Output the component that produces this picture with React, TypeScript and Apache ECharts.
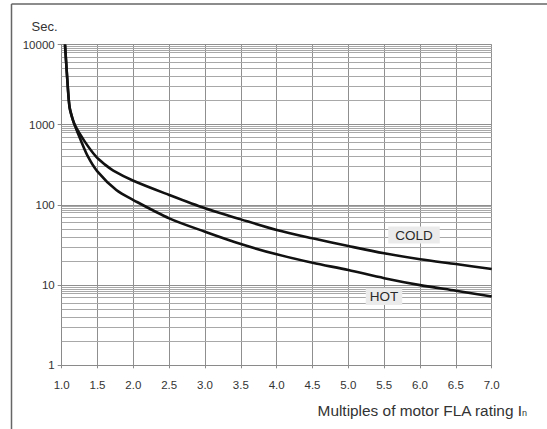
import React, { useEffect, useRef } from "react";
import * as echarts from "echarts";

// Tick labels
const xTicks = ["1.0", "1.5", "2.0", "2.5", "3.0", "3.5", "4.0", "4.5", "5.0", "5.5", "6.0", "6.5", "7.0"];
const yTicks = [1, 10, 100, 1000, 10000];

// Minor grid lines of the log paper (per decade)
const decades = [1, 10, 100, 1000];
const decadeSteps = [2, 3, 4, 5, 6, 7, 8, 8.5, 9, 9.5];

// Shared steep start of both curves
const startPart: [number, number][] = [
  [1.046, 10000],
  [1.088, 2710],
  [1.11, 1650],
  [1.14, 1280],
  [1.18, 1000],
];

// HOT curve (multiple of FLA, seconds)
const hotPart: [number, number][] = [
  [1.265, 644],
  [1.367, 399],
  [1.497, 262],
  [1.762, 153],
  [2.0, 115],
  [2.5, 68],
  [3.0, 46.3],
  [3.5, 32.5],
  [4.0, 24.2],
  [4.5, 19],
  [5.0, 15.4],
  [5.5, 12.2],
  [6.0, 10],
  [6.5, 8.5],
  [7.0, 7.2],
];

// COLD curve
const coldPart: [number, number][] = [
  [1.32, 620],
  [1.48, 399],
  [1.6, 320],
  [1.72, 268],
  [2.0, 200],
  [2.5, 133],
  [3.0, 90.7],
  [3.5, 66],
  [4.0, 48.7],
  [4.5, 38.3],
  [5.0, 30.7],
  [5.5, 24.9],
  [6.0, 21],
  [6.5, 18.3],
  [7.0, 15.9],
];

const coldLabelAt: [number, number] = [5.916, 42.1];
const hotLabelAt: [number, number] = [5.497, 7.21];

const FONT = "'Liberation Sans', Arial, Helvetica, sans-serif";

export default function App() {
  const ref = useRef<HTMLDivElement>(null);
  useEffect(() => {
    if (!ref.current) return;
    const chart = echarts.init(ref.current, undefined, { renderer: "svg" });
    const minorValues: number[] = [];
    decades.forEach((d) => decadeSteps.forEach((s) => minorValues.push(d * s)));

    const labelStyle = (text: string, pad: number[]) => ({
      show: true,
      position: "inside",
      formatter: text,
      color: "#2a2a2a",
      fontFamily: FONT,
      fontSize: 13.5,
      backgroundColor: "#ebebeb",
      padding: pad,
    });

    chart.setOption({
      animation: false,
      backgroundColor: "#ffffff",
      grid: { left: 61.7, right: 55.3, top: 44.5, bottom: 63.7, containLabel: false },
      xAxis: {
        type: "value",
        min: 1,
        max: 7,
        interval: 0.5,
        axisLine: { show: true, lineStyle: { color: "#8a8a8a", width: 1 } },
        axisTick: { show: true, length: 3, lineStyle: { color: "#8a8a8a" } },
        axisLabel: {
          margin: 14,
          color: "#333",
          fontFamily: FONT,
          fontSize: 11.5,
          formatter: (v: number) => {
            const i = Math.round((v - 1) / 0.5);
            return xTicks[i] ?? "";
          },
        },
        splitLine: { show: true, lineStyle: { color: "#8f8f8f", width: 1 } },
      },
      yAxis: {
        type: "log",
        logBase: 10,
        min: yTicks[0],
        max: yTicks[yTicks.length - 1],
        axisLine: { show: true, lineStyle: { color: "#8a8a8a", width: 1 } },
        axisTick: { show: true, length: 4, lineStyle: { color: "#8a8a8a" } },
        axisLabel: {
          margin: 7,
          color: "#333",
          fontFamily: FONT,
          fontSize: 11.5,
          formatter: (v: number) => String(Math.round(v)),
        },
        splitLine: { show: true, lineStyle: { color: "#8f8f8f", width: 1 } },
        minorTick: { show: false },
        minorSplitLine: { show: false },
      },
      graphic: [
        {
          type: "line",
          shape: { x1: 11.5, y1: 4, x2: 547, y2: 4 },
          style: { stroke: "#666", lineWidth: 1.5 },
        },
        {
          type: "line",
          shape: { x1: 11.5, y1: 4, x2: 11.5, y2: 429 },
          style: { stroke: "#666", lineWidth: 1.5 },
        },
        {
          type: "text",
          x: 31.5,
          y: 26,
          style: {
            text: "Sec.",
            fill: "#333",
            font: `13px ${FONT}`,
            verticalAlign: "middle",
          },
        },
        {
          type: "text",
          x: 527,
          y: 410,
          style: {
            text: "{a|Multiples of motor FLA rating I}{b|n}",
            align: "right",
            verticalAlign: "middle",
            rich: {
              a: { fontSize: 15.4, fontFamily: FONT, fill: "#333", color: "#333" },
              b: { fontSize: 9, fontFamily: FONT, fill: "#333", color: "#333", padding: [5, 0, 0, 0] },
            },
          },
        },
      ],
      series: [
        {
          type: "line",
          name: "grid",
          data: [[1, 1]],
          showSymbol: false,
          silent: true,
          z: 1,
          lineStyle: { opacity: 0 },
          markLine: {
            silent: true,
            symbol: ["none", "none"],
            label: { show: false },
            lineStyle: { type: "solid", color: "#a8a8a8", width: 1 },
            emphasis: { disabled: true },
            animation: false,
            data: minorValues.map((v) => ({ yAxis: v })),
          },
        },
        {
          type: "line",
          name: "COLD",
          data: [...startPart, ...coldPart],
          showSymbol: false,
          smooth: 0.3,
          z: 5,
          lineStyle: { color: "#111", width: 2.6 },
          markPoint: {
            symbol: "circle",
            symbolSize: 1,
            itemStyle: { color: "transparent" },
            data: [{ coord: coldLabelAt, label: labelStyle("COLD", [2, 7, 1, 7]) }],
          },
        },
        {
          type: "line",
          name: "HOT",
          data: [...startPart, ...hotPart],
          showSymbol: false,
          smooth: 0.3,
          z: 5,
          lineStyle: { color: "#111", width: 2.6 },
          markPoint: {
            symbol: "circle",
            symbolSize: 1,
            itemStyle: { color: "transparent" },
            data: [{ coord: hotLabelAt, label: labelStyle("HOT", [2, 4, 1, 4]) }],
          },
        },
      ],
    });
    return () => chart.dispose();
  }, []);
  return (
    <div
      ref={ref}
      style={{ position: "fixed", left: 0, top: 0, width: 547, height: 429, background: "#fff" }}
    />
  );
}
